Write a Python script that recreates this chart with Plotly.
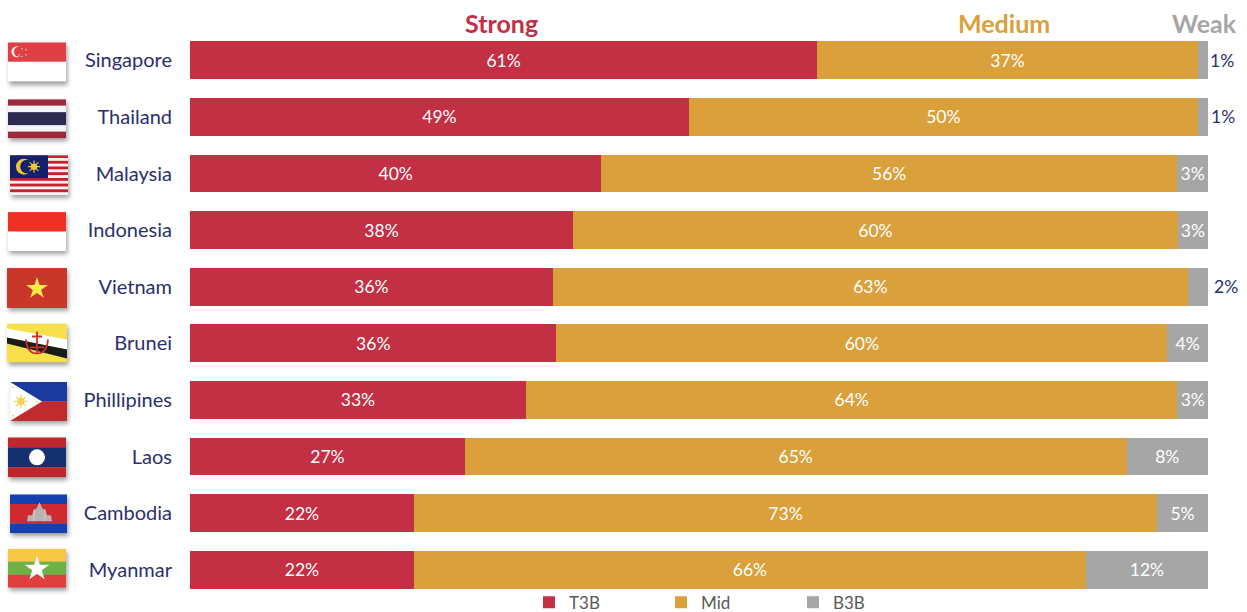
import base64
import math
import plotly.graph_objects as go

countries = ["Singapore", "Thailand", "Malaysia", "Indonesia", "Vietnam", "Brunei",
             "Phillipines", "Laos", "Cambodia", "Myanmar"]
t3b = [61, 49, 40, 38, 36, 36, 33, 27, 22, 22]
mid = [37, 50, 56, 60, 63, 60, 64, 65, 73, 66]
b3b = [1, 1, 3, 3, 2, 4, 3, 8, 5, 12]
headers = ["Strong", "Medium", "Weak"]
series_names = ["T3B", "Mid", "B3B"]

W, H = 1247, 612
L, R, T, B = 190.0, 1208.0, 31.7, 598.3
RED, GOLD, GREY, NAVY = "#c33044", "#d9a03c", "#a6a6a6", "#2b2f6e"
FONT = "Lato"
OUTSIDE_MIN = 3


def px(x):
    return (x - L) / (R - L)


def py(y):
    return (B - y) / (B - T)


def star(cx, cy, r, fill, n=5, inner=0.382):
    pts = []
    for i in range(2 * n):
        rad = r if i % 2 == 0 else r * inner
        a = -math.pi / 2 + i * math.pi / n
        pts.append(f"{cx + rad * math.cos(a):.2f},{cy + rad * math.sin(a):.2f}")
    return f'<polygon points="{" ".join(pts)}" fill="{fill}"/>'


def rect(x, y, w, h, fill):
    return f'<rect x="{x}" y="{y}" width="{w}" height="{h}" fill="{fill}"/>'


def sun(cx, cy, r, fill):
    rays = "".join(
        f'<line x1="{cx}" y1="{cy}" x2="{cx + 1.9 * r * math.cos(i * math.pi / 4):.2f}" '
        f'y2="{cy + 1.9 * r * math.sin(i * math.pi / 4):.2f}" stroke="{fill}" stroke-width="1.1"/>'
        for i in range(8))
    return rays + f'<circle cx="{cx}" cy="{cy}" r="{r}" fill="{fill}"/>'


def bands(colors, weights, w=58, h=39):
    total = sum(weights)
    y, out = 0, ""
    for c, wt in zip(colors, weights):
        out += rect(0, round(y, 2), w, round(h * wt / total + 0.05, 2), c)
        y += h * wt / total
    return out


malaysia = "".join(rect(0, round(i * 40 / 14, 2), 58, 2.9, "#c8202c" if i % 2 == 0 else "#f6f0f0") for i in range(14))
malaysia += rect(0, 0, 38, 23, "#14206a")
malaysia += '<circle cx="14" cy="11.5" r="8" fill="#f0c62e"/><circle cx="17" cy="11.5" r="6.8" fill="#14206a"/>'
malaysia += sun(24, 11.5, 3.2, "#f0c62e")

cambodia_temple = (
    '<polygon points="17,27 42,27 41,21 37,21 35,15 33,15 29.5,8 26,15 24,15 22,21 18,21" fill="#b8b2b0"/>'
    '<line x1="24" y1="15" x2="24" y2="27" stroke="#d9d2d0" stroke-width="0.8"/>'
    '<line x1="35" y1="15" x2="35" y2="27" stroke="#d9d2d0" stroke-width="0.8"/>'
)

flags = {
    "Singapore": bands(["#e04045", "#ffffff"], [1, 1])
    + '<circle cx="9" cy="9.5" r="5.6" fill="#f8e4e4"/><circle cx="11" cy="9.5" r="5" fill="#e04045"/>'
    + "".join(star(x, y, 1.1, "#f8e4e4") for x, y in [(14, 6.5), (18, 7.5), (11, 12.5), (14, 14), (18, 12.5)]),
    "Thailand": bands(["#9c2a3a", "#f4f4f8", "#2c2a50", "#f4f4f8", "#9c2a3a"], [1, 1, 2, 1, 1]),
    "Malaysia": malaysia,
    "Indonesia": bands(["#ee3124", "#ffffff"], [1, 1]),
    "Vietnam": rect(0, 0, 60, 40, "#c8372a") + star(30, 20.5, 11.5, "#fbe84a"),
    "Brunei": rect(0, 0, 60, 39, "#f7e04b")
    + '<polygon points="0,5 60,16 60,26 0,14" fill="#ffffff"/>'
    + '<polygon points="0,14 60,26 60,35 0,20" fill="#1a1a1a"/>'
    + '<path d="M19 16 Q20 30 30 30 Q40 30 41 16 M30 8 V29 M25 13 H35 M23 24 H37" '
      'stroke="#c8302a" stroke-width="1.8" fill="none"/>',
    "Phillipines": bands(["#1a3aa0", "#c02b30"], [1, 1], 57)
    + '<polygon points="0,0 32,19.5 0,39" fill="#ffffff"/>'
    + sun(11, 19.5, 3.6, "#f5d25a")
    + star(3, 5, 1.7, "#f5d25a") + star(3, 34, 1.7, "#f5d25a") + star(27, 19.5, 1.7, "#f5d25a"),
    "Laos": bands(["#c0272d", "#14306e", "#c0272d"], [1, 2, 1], 58, 40) + '<circle cx="29" cy="20" r="8" fill="#ffffff"/>',
    "Cambodia": bands(["#1540b0", "#d02a30", "#1540b0"], [1, 2, 1], 57) + cambodia_temple,
    "Myanmar": bands(["#f6c843", "#6cb244", "#df3f3f"], [1, 1, 1]) + star(29, 20, 13, "#ffffff"),
}

# left, top, width, height of each flag in page pixels
flag_boxes = {
    "Singapore": (8, 42, 58, 40), "Thailand": (8, 99, 58, 39), "Malaysia": (10, 155, 58, 40),
    "Indonesia": (8, 212, 58, 39), "Vietnam": (7, 268, 60, 40), "Brunei": (7, 323.5, 60, 39),
    "Phillipines": (10, 382, 57, 39), "Laos": (8, 437.5, 58, 40), "Cambodia": (10, 494.5, 57, 39),
    "Myanmar": (8, 549, 58, 39),
}

images = []
PAD_L, PAD_R = 4, 9
for name, (x, y, w, h) in flag_boxes.items():
    svg = (
        f'<svg xmlns="http://www.w3.org/2000/svg" width="{w + PAD_L + PAD_R}" height="{h + PAD_L + PAD_R}" '
        f'viewBox="{-PAD_L} {-PAD_L} {w + PAD_L + PAD_R} {h + PAD_L + PAD_R}">'
        '<defs><filter id="s" x="-20%" y="-20%" width="140%" height="140%"><feGaussianBlur stdDeviation="1.9"/></filter></defs>'
        f'<rect x="1.5" y="3" width="{w}" height="{h}" fill="#666" opacity="0.6" filter="url(#s)"/>'
        f'<svg x="0" y="0" width="{w}" height="{h}" viewBox="0 0 {w} {h}">{flags[name]}</svg></svg>'
    )
    uri = "data:image/svg+xml;base64," + base64.b64encode(svg.encode()).decode()
    images.append(dict(
        source=uri, xref="paper", yref="paper", layer="above",
        x=px(x - PAD_L), y=py(y - PAD_L),
        sizex=(w + PAD_L + PAD_R) / (R - L), sizey=(h + PAD_L + PAD_R) / (B - T),
        xanchor="left", yanchor="top", sizing="stretch",
    ))

fig = go.Figure()
for name, vals, color in zip(series_names, [t3b, mid, b3b], [RED, GOLD, GREY]):
    fig.add_bar(
        name=name, x=vals, y=countries, orientation="h", marker=dict(color=color, line_width=0),
        text=[f"{v}%" if (name != "B3B" or v >= OUTSIDE_MIN) else "" for v in vals],
        textposition="inside", insidetextanchor="middle", textangle=0,
        insidetextfont=dict(color="white", size=17.5, family=FONT), hoverinfo="x+y+name",
    )

annotations = []
for c, v, shift in zip(countries, b3b, [14, 15, 0, 0, 18, 0, 0, 0, 0, 0]):
    if v < OUTSIDE_MIN:
        annotations.append(dict(x=100, y=c, xref="x", yref="y", text=f"{v}%", showarrow=False,
                                xshift=shift, font=dict(color=NAVY, size=17.5, family=FONT)))

for text, x, color in zip(headers, [501, 1004, 1204], [RED, GOLD, GREY]):
    annotations.append(dict(x=px(x), y=py(23), xref="paper", yref="paper", text=f"<b>{text}</b>",
                            xanchor="center", yanchor="middle", showarrow=False,
                            font=dict(color=color, size=25, family=FONT)))

fig.update_layout(
    width=W, height=H, barmode="stack", barnorm="percent", bargap=0.33,
    margin=dict(l=L, r=W - R, t=T, b=H - B, autoexpand=False),
    paper_bgcolor="white", plot_bgcolor="white",
    font=dict(family=FONT, color=NAVY),
    xaxis=dict(range=[0, 100], visible=False),
    yaxis=dict(autorange="reversed", showline=False, showgrid=False, ticks="",
               ticklabelstandoff=17, tickfont=dict(size=20, color=NAVY, family=FONT)),
    legend=dict(orientation="h", x=px(529), y=py(603), xanchor="left", yanchor="middle",
                entrywidth=87, entrywidthmode="pixels", bgcolor="rgba(0,0,0,0)",
                font=dict(size=17, color="#595959", family=FONT), traceorder="normal"),
    annotations=annotations, images=images,
)

fig.write_html("out.html", config=dict(displayModeBar=False),
               post_script="document.body.style.margin='0';document.body.style.overflow='hidden';")
